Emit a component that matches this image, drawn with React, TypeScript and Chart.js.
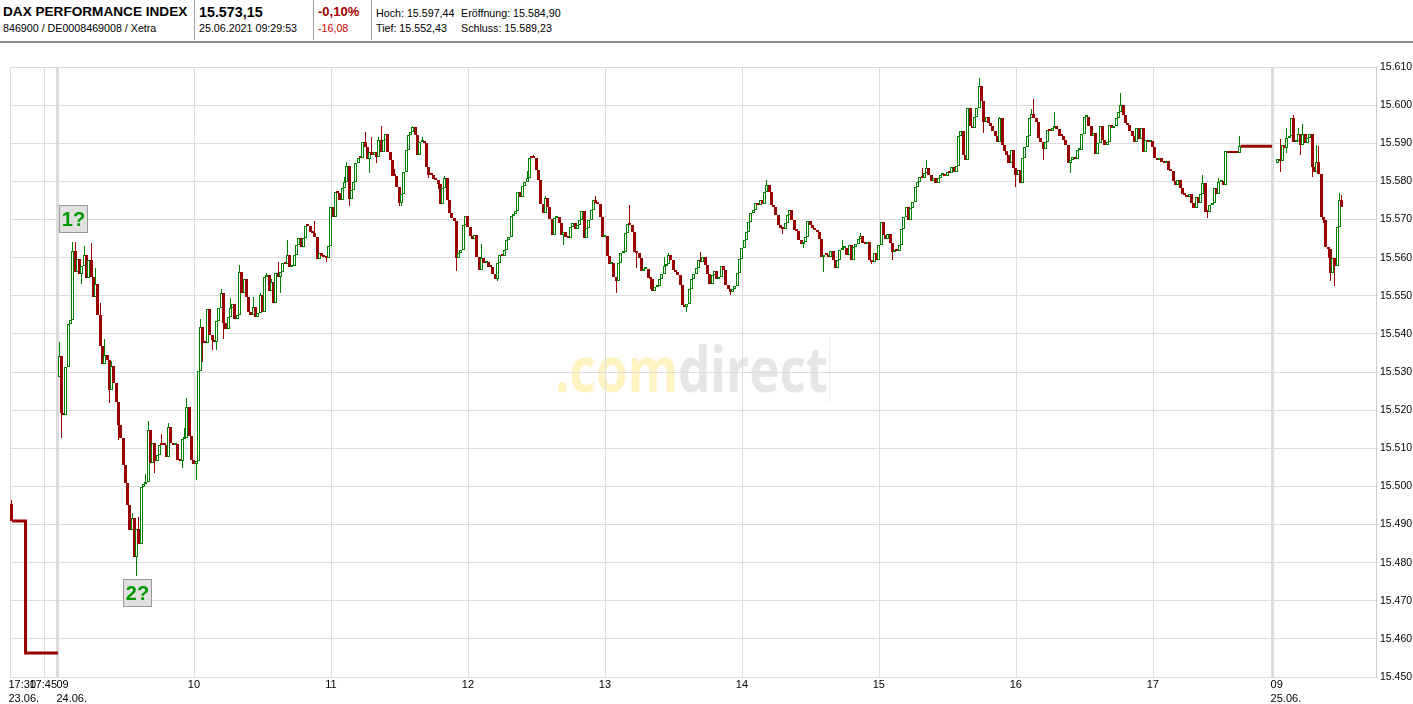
import React, { useEffect, useRef } from 'react';
import { Chart, registerables } from 'chart.js';

Chart.register(...registerables);

// ---------------- DATA ----------------
// x axis: compressed minutes, 0 = 23.06. 17:30 ; 24.06 09:00 at 21 ; 25.06 09:00 at 552.8
const X_MIN = 0;
const X_MAX = 598.3;
const SESSION24_START = 21;
const SESSION25_START = 552.8;

const xTickValues = [0, 15, 21, 81, 141, 201, 261, 321, 381, 441, 501, 552.8];
const xTickTop = ['17:30', '17:45', '09', '10', '11', '12', '13', '14', '15', '16', '17', '09'];
const xTickBottom = ['23.06.', '', '24.06.', '', '', '', '', '', '', '', '', '25.06.'];
const dayBreaks = [21, 552.8];

const yTickValues = [15450, 15460, 15470, 15480, 15490, 15500, 15510, 15520, 15530, 15540, 15550, 15560, 15570, 15580, 15590, 15600, 15610];

// 23.06. late prices
const open23 = 15495.5;
const close23 = [15490.9];
const high23: [number, number][] = [[0, 15496.5]];
const line23Times = [0.9, 6.8, 6.8, 21];
const line23Prices = [15490.9, 15490.9, 15456.3, 15456.3];

// 24.06. one-minute candles (minute 0 = 09:00)
const open24 = 15528.6;
const close24 = [
  15534.2, 15519.3, 15518.6, 15531.4, 15542.6, 15543.6, 15561.7, 15556.3, 15559.6, 15555.7,
  15557.9, 15560.7, 15554.6, 15559.4, 15555.0, 15549.8, 15553.0, 15545.0, 15536.8, 15532.1,
  15534.4, 15533.1, 15525.4, 15531.6, 15527.0, 15522.2, 15516.1, 15512.6, 15505.6, 15500.8,
  15495.2, 15488.5, 15491.6, 15481.5, 15488.7, 15484.8, 15499.9, 15500.5, 15501.2, 15514.8,
  15506.2, 15511.4, 15506.7, 15508.2, 15510.8, 15510.8, 15510.8, 15507.8, 15515.6, 15511.3,
  15510.8, 15511.1, 15506.9, 15506.7, 15512.3, 15512.8, 15520.7, 15513.2, 15506.9, 15506.0,
  15506.7, 15530.3, 15541.9, 15537.7, 15537.5, 15546.4, 15539.7, 15538.4, 15537.9, 15543.4,
  15546.7, 15550.8, 15542.8, 15541.4, 15544.5, 15546.7, 15547.8, 15543.8, 15545.0, 15556.1,
  15550.6, 15554.3, 15549.8, 15545.8, 15545.0, 15547.1, 15544.5, 15545.4, 15550.2, 15545.8,
  15555.0, 15555.4, 15551.3, 15553.7, 15548.2, 15555.9, 15555.0, 15556.3, 15558.5, 15558.3,
  15560.7, 15557.6, 15557.8, 15560.7, 15563.3, 15565.1, 15562.7, 15565.1, 15568.3, 15568.3,
  15566.8, 15566.4, 15565.3, 15559.6, 15561.1, 15560.3, 15560.1, 15559.8, 15563.1, 15573.2,
  15570.6, 15577.3, 15577.0, 15575.1, 15578.2, 15579.8, 15584.1, 15575.4, 15577.8, 15579.8,
  15584.9, 15586.1, 15586.1, 15590.4, 15589.0, 15585.8, 15587.8, 15586.9, 15587.8, 15586.5,
  15590.9, 15587.8, 15590.9, 15592.4, 15587.6, 15585.6, 15581.3, 15581.3, 15578.6, 15574.4,
  15576.6, 15582.4, 15588.1, 15592.2, 15592.9, 15594.2, 15592.2, 15586.9, 15590.4, 15590.7,
  15590.0, 15583.7, 15581.7, 15581.7, 15580.6, 15580.4, 15579.3, 15574.1, 15578.2, 15581.0,
  15575.1, 15571.6, 15570.3, 15569.7, 15559.8, 15561.1, 15562.0, 15568.6, 15570.9, 15568.1,
  15565.7, 15564.8, 15565.9, 15560.1, 15556.8, 15559.8, 15558.5, 15558.9, 15557.6, 15557.5,
  15555.7, 15554.3, 15558.5, 15560.7, 15560.3, 15562.0, 15564.5, 15565.5, 15570.9, 15571.5,
  15572.1, 15577.3, 15575.8, 15578.8, 15579.9, 15580.8, 15586.1, 15586.1, 15586.1, 15583.0,
  15580.4, 15574.0, 15571.6, 15575.6, 15573.4, 15570.1, 15565.9, 15570.3, 15570.6, 15569.0,
  15565.9, 15566.6, 15565.3, 15565.1, 15568.1, 15569.0, 15567.6, 15568.6, 15569.9, 15572.1,
  15565.1, 15567.7, 15569.9, 15572.5, 15575.0, 15574.3, 15574.1, 15570.6, 15565.3, 15565.7,
  15560.3, 15558.2, 15558.7, 15555.0, 15554.0, 15558.5, 15561.1, 15561.6, 15566.4, 15568.8,
  15568.6, 15566.6, 15561.6, 15561.1, 15559.8, 15556.6, 15556.9, 15557.1, 15554.6, 15554.3,
  15551.3, 15552.2, 15552.5, 15554.5, 15555.7, 15557.8, 15558.3, 15560.7, 15559.4, 15556.7,
  15556.3, 15555.4, 15552.8, 15547.5, 15547.1, 15547.8, 15551.9, 15554.5, 15555.8, 15557.2,
  15559.4, 15558.9, 15560.2, 15558.0, 15555.8, 15553.2, 15555.4, 15556.6, 15554.5, 15554.8,
  15557.8, 15556.7, 15552.8, 15551.9, 15551.0, 15551.9, 15552.5, 15555.9, 15559.6, 15562.4,
  15564.6, 15566.8, 15569.4, 15571.8, 15572.5, 15574.2, 15573.8, 15575.1, 15574.0, 15577.3,
  15579.0, 15577.3, 15573.8, 15573.4, 15571.2, 15568.5, 15567.7, 15567.4, 15569.0, 15571.2,
  15572.6, 15569.9, 15567.2, 15567.1, 15564.6, 15563.6, 15564.2, 15565.5, 15569.7, 15568.5,
  15567.7, 15567.2, 15566.8, 15565.0, 15560.2, 15560.7, 15560.7, 15560.2, 15561.8, 15559.4,
  15557.4, 15559.4, 15562.0, 15562.4, 15562.6, 15560.8, 15563.3, 15559.4, 15562.7, 15563.7,
  15564.8, 15565.7, 15563.9, 15563.7, 15564.2, 15559.4, 15558.9, 15561.1, 15559.4, 15563.3,
  15569.4, 15565.9, 15565.0, 15566.2, 15563.9, 15561.5, 15562.0, 15561.8, 15563.3, 15567.4,
  15570.7, 15573.4, 15569.9, 15572.9, 15574.7, 15578.4, 15579.9, 15581.2, 15581.0, 15582.3,
  15583.4, 15581.7, 15580.2, 15581.0, 15579.5, 15580.8, 15581.7, 15581.9, 15581.5, 15582.4,
  15582.1, 15583.9, 15582.5, 15584.0, 15591.8, 15593.1, 15586.9, 15585.6, 15599.2, 15594.4,
  15593.9, 15597.0, 15599.2, 15604.9, 15601.0, 15595.5, 15596.8, 15595.3, 15594.4, 15593.1,
  15592.0, 15590.4, 15596.6, 15589.6, 15588.0, 15586.9, 15584.7, 15588.2, 15583.6, 15581.7,
  15583.0, 15579.5, 15586.1, 15589.1, 15591.8, 15596.6, 15597.6, 15596.6, 15595.7, 15591.3,
  15590.3, 15588.4, 15590.4, 15593.5, 15593.1, 15593.9, 15594.4, 15593.8, 15592.0, 15591.8,
  15590.9, 15589.6, 15584.9, 15585.6, 15586.5, 15585.9, 15588.1, 15588.2, 15592.4, 15596.8,
  15597.0, 15594.4, 15592.0, 15592.6, 15587.1, 15590.0, 15594.6, 15590.9, 15589.6, 15590.3,
  15594.8, 15594.1, 15594.6, 15596.6, 15598.3, 15600.1, 15597.5, 15595.3, 15594.8, 15593.2,
  15591.8, 15590.4, 15593.9, 15591.1, 15593.9, 15587.6, 15590.9, 15590.3, 15590.6, 15588.9,
  15586.2, 15585.6, 15586.2, 15585.2, 15584.7, 15585.4, 15583.0, 15582.7, 15580.1, 15579.0,
  15580.4, 15578.3, 15576.8, 15576.4, 15576.0, 15576.6, 15574.2, 15572.9, 15576.0, 15574.2,
  15576.8, 15579.5, 15572.0, 15572.0, 15573.8, 15574.2, 15578.3, 15576.8, 15579.9, 15580.1,
  15579.0, 15588.0, 15587.5, 15587.5, 15587.5, 15587.5, 15587.5, 15589.3,
];
const high24: [number, number][] = [
  [0, 15537.9], [6, 15564.0], [7, 15564.0], [11, 15563.1], [14, 15563.8], [16, 15557.2], [18, 15548.0],
  [20, 15538.6], [23, 15532.9], [27, 15515.2], [32, 15492.9], [35, 15492.0], [38, 15503.2], [39, 15517.1],
  [45, 15513.7], [48, 15516.7], [55, 15515.2], [56, 15523.2], [62, 15543.8], [71, 15551.9], [75, 15549.3],
  [79, 15558.1], [85, 15549.6], [88, 15550.8], [91, 15555.9], [93, 15554.3], [96, 15558.9], [100, 15564.6],
  [112, 15569.7], [125, 15581.1], [126, 15585.2], [134, 15593.0], [137, 15591.7], [140, 15591.7],
  [141, 15594.4], [147, 15583.2], [155, 15594.6], [159, 15591.7], [169, 15581.4], [185, 15563.5],
  [205, 15582.7], [208, 15586.9], [213, 15576.2], [235, 15576.2], [250, 15573.8], [265, 15560.1],
  [267, 15561.3], [281, 15561.5], [310, 15580.3], [343, 15564.6], [351, 15566.5], [378, 15583.4],
  [380, 15585.6], [395, 15593.3], [403, 15607.1], [412, 15597.0], [426, 15599.0], [427, 15601.7],
  [436, 15598.2], [465, 15603.2], [501, 15581.7], [508, 15580.8], [517, 15591.9],
];
const low24: [number, number][] = [
  [1, 15512.6], [10, 15553.1], [22, 15521.9], [26, 15512.1], [34, 15476.5], [42, 15503.4], [54, 15504.7],
  [60, 15501.6], [63, 15532.5], [67, 15535.8], [69, 15535.8], [72, 15538.6], [97, 15550.6], [117, 15558.8],
  [127, 15573.5], [136, 15582.3], [139, 15584.8], [149, 15573.6], [150, 15573.6], [162, 15580.8],
  [166, 15578.0], [174, 15556.6], [192, 15554.0], [221, 15563.4], [244, 15550.8], [253, 15557.2],
  [259, 15551.7], [275, 15545.8], [294, 15550.1], [317, 15566.2], [326, 15562.6], [335, 15556.3],
  [356, 15558.4], [365, 15559.4], [405, 15592.6], [419, 15578.6], [431, 15585.6], [443, 15582.1],
  [503, 15570.4],
];
// 24.06. after the close (Schluss)
const afterCloseTimes = [539, 552.8];
const afterClosePrices = [15589.23, 15589.23];

// 25.06. one-minute candles (first print at minute 2 = 09:02)
const first25Minute = 2;
const open25 = 15584.9;
const close25 = [
  15586.0, 15585.4, 15589.5, 15588.8, 15591.5, 15591.8, 15596.5, 15590.4, 15590.6, 15592.5,
  15589.5, 15592.5, 15590.0, 15591.5, 15592.3, 15583.8, 15582.5, 15585.1, 15582.0, 15570.7,
  15569.9, 15562.8, 15562.2, 15556.0, 15559.8, 15557.9, 15568.1, 15575.2, 15573.15,
];
const high25: [number, number][] = [
  [3, 15591.0], [6, 15594.1], [9, 15597.44], [11, 15594.0], [13, 15595.0], [19, 15589.5], [20, 15589.2],
  [29, 15577.0], [30, 15576.4],
];
const low25: [number, number][] = [
  [3, 15582.5], [6, 15587.5], [12, 15586.8], [17, 15581.2], [22, 15569.1], [24, 15560.0], [25, 15554.0],
  [27, 15552.43],
];

const annotationLabels = ['1?', '2?'];
const annotationMinutes = [6, 34]; // minute of 24.06.
const annotationSides = ['above', 'below'];

const headerTitle = 'DAX PERFORMANCE INDEX';
const headerIds = '846900 / DE0008469008 / Xetra';
const headerPrice = '15.573,15';
const headerTime = '25.06.2021 09:29:53';
const headerPct = '-0,10%';
const headerAbs = '-16,08';
const headerRow1 = ['Hoch: 15.597,44', 'Eröffnung: 15.584,90'];
const headerRow2 = ['Tief: 15.552,43', 'Schluss: 15.589,23'];

// ---------------- STYLE ----------------
const RED = '#990000';
const GREEN = '#008000';
const GRID = '#dcdcdc';
const FONT = '"Liberation Sans", Arial, sans-serif';

type Candle = { x: number; o: number; c: number; hi: number; lo: number; up: boolean };

function buildCandles(open0: number, closes: number[], startT: number, firstMinute: number,
  highs: [number, number][], lows: [number, number][]): Candle[] {
  const hMap = new Map(highs);
  const lMap = new Map(lows);
  let prev = open0;
  return closes.map((c, i) => {
    const o = prev;
    prev = c;
    const m = i + firstMinute;
    const hi = Math.max(o, c, hMap.has(m) ? (hMap.get(m) as number) : -Infinity);
    const lo = Math.min(o, c, lMap.has(m) ? (lMap.get(m) as number) : Infinity);
    return { x: startT + m + 0.5, o, c, hi, lo, up: c > o };
  });
}

function fmtDE(v: number) {
  const th = Math.floor(v / 1000);
  const rest = Math.round(v - th * 1000);
  return `${th}.${String(rest).padStart(3, '0')}`;
}

export default function App() {
  const ref = useRef<HTMLCanvasElement | null>(null);

  useEffect(() => {
    document.body.style.margin = '0';
    const c23 = buildCandles(open23, close23, 0, 0, high23, []);
    const c24 = buildCandles(open24, close24, SESSION24_START, 0, high24, low24);
    const c25 = buildCandles(open25, close25, SESSION25_START, first25Minute, high25, low25);
    const candles = [...c23, ...c24, ...c25];

    const overlay = {
      id: 'overlay',
      beforeDraw(chart: any) {
        const { ctx, chartArea: a } = chart;
        ctx.save();
        ctx.font = 'bold 62px "Open Sans"';
        const w1 = ctx.measureText('.com').width;
        const w2 = ctx.measureText('direct').width;
        const total = w1 + w2;
        const sx = 273 / total;
        const cx = (a.left + a.right) / 2 - 1.5;
        const baseY = (a.top + a.bottom) / 2 + 20;
        ctx.translate(cx - (total * sx) / 2, baseY);
        ctx.scale(sx, 1);
        ctx.fillStyle = '#fff3c2';
        ctx.fillText('.com', 0, 0);
        ctx.fillStyle = '#e6e6e6';
        ctx.fillText('direct', w1, 0);
        ctx.restore();
        ctx.save();
        ctx.strokeStyle = '#eeeeee';
        ctx.lineWidth = 1;
        ctx.beginPath();
        const ex = Math.round(cx + 273 / 2 + 0.5) + 0.5;
        ctx.moveTo(ex, baseY - 57);
        ctx.lineTo(ex, baseY + 11);
        ctx.stroke();
        ctx.restore();
      },
      beforeDatasetsDraw(chart: any) {
        // snap candle bars to whole pixels for crisp edges
        [0, 1].forEach((di) => {
          chart.getDatasetMeta(di).data.forEach((el: any) => {
            el.x = Math.round(el.x - 0.5) + 0.5;
            el.y = Math.round(el.y);
            el.base = Math.round(el.base);
          });
        });
      },
      afterDraw(chart: any) {
        const { ctx, chartArea: a, scales } = chart;
        const xs = scales.x;
        const ys = scales.y;
        ctx.save();
        ctx.fillStyle = '#000';
        ctx.font = `11px ${FONT}`;
        ctx.textBaseline = 'alphabetic';
        xTickValues.forEach((v, i) => {
          const px = xs.getPixelForValue(v);
          const startsDay = xTickBottom[i] !== '';
          ctx.textAlign = startsDay ? 'left' : 'center';
          const x = startsDay ? px - 1.5 : px - 1;
          ctx.fillText(xTickTop[i], x, a.bottom + 11);
          if (startsDay) ctx.fillText(xTickBottom[i], x, a.bottom + 24.5);
        });
        // annotations
        annotationLabels.forEach((lab, i) => {
          const cnd = c24[annotationMinutes[i]];
          const px = xs.getPixelForValue(cnd.x);
          const w = 29, h = 28;
          let top: number;
          if (annotationSides[i] === 'above') top = ys.getPixelForValue(cnd.hi) - 9 - h;
          else top = ys.getPixelForValue(cnd.lo) + 3;
          const left = Math.round(px - w / 2 + 1);
          top = Math.round(top);
          ctx.fillStyle = '#e0e0e0';
          ctx.fillRect(left, top, w, h);
          ctx.strokeStyle = '#9a9a9a';
          ctx.lineWidth = 1;
          ctx.strokeRect(left + 0.5, top + 0.5, w - 1, h - 1);
          ctx.fillStyle = '#009900';
          ctx.font = `bold 20px ${FONT}`;
          ctx.textAlign = 'center';
          ctx.textBaseline = 'alphabetic';
          ctx.fillText(lab, left + w / 2, top + h / 2 + 7);
        });
        ctx.restore();
      },
    };

    const chart = new Chart(ref.current as HTMLCanvasElement, {
      type: 'bar',
      data: {
        datasets: [
          {
            type: 'bar',
            label: 'body',
            data: candles.map((k) => ({ x: k.x, y: [k.o, k.c] })) as any,
            backgroundColor: candles.map((k) => (k.up ? '#ffffff' : RED)),
            borderColor: candles.map((k) => (k.up ? GREEN : RED)),
            borderWidth: candles.map((k) => (k.up ? 1 : 0)),
            borderSkipped: false,
            barThickness: 3,
            minBarLength: 2,
            grouped: false,
            inflateAmount: 0,
            order: 0,
          } as any,
          {
            type: 'bar',
            label: 'wick',
            data: candles.map((k) => ({ x: k.x, y: [k.lo, k.hi] })) as any,
            backgroundColor: candles.map((k) => (k.up ? GREEN : RED)),
            borderWidth: 0,
            barThickness: 1,
            grouped: false,
            inflateAmount: 0,
            order: 1,
          } as any,
          {
            type: 'line',
            label: 'late23',
            data: line23Times.map((t, i) => ({ x: t, y: line23Prices[i] })) as any,
            borderColor: RED,
            borderWidth: 3,
            pointRadius: 0,
            borderJoinStyle: 'miter',
            borderCapStyle: 'butt',
            fill: false,
            tension: 0,
            order: 2,
          } as any,
          {
            type: 'line',
            label: 'afterClose24',
            data: afterCloseTimes.map((t, i) => ({ x: t, y: afterClosePrices[i] })) as any,
            borderColor: RED,
            borderWidth: 3,
            pointRadius: 0,
            borderCapStyle: 'butt',
            fill: false,
            tension: 0,
            order: 2,
          } as any,
        ],
      },
      options: {
        animation: false,
        responsive: false,
        devicePixelRatio: 1,
        layout: { padding: { left: 10, top: 23, right: 0, bottom: 0 } },
        plugins: { legend: { display: false }, tooltip: { enabled: false } },
        events: [],
        scales: {
          x: {
            type: 'linear',
            min: X_MIN,
            max: X_MAX,
            offset: false,
            afterBuildTicks: (s: any) => {
              s.ticks = xTickValues.map((v) => ({ value: v }));
            },
            ticks: { display: false },
            grid: {
              color: GRID,
              offset: false,
              drawTicks: false,
              lineWidth: (ctx: any) => (ctx.tick && dayBreaks.includes(ctx.tick.value) ? 3 : 1),
            },
            border: { display: false },
            afterFit: (s: any) => {
              s.height = 27;
            },
          } as any,
          y: {
            type: 'linear',
            position: 'right',
            min: 15450,
            max: 15610,
            afterBuildTicks: (s: any) => {
              s.ticks = yTickValues.map((v) => ({ value: v }));
            },
            ticks: {
              callback: (v: any) => fmtDE(Number(v)),
              font: { family: FONT, size: 10.5 },
              color: '#000',
              padding: 2,
              autoSkip: false,
            },
            grid: { color: GRID, tickLength: 2 },
            border: { color: '#cccccc' },
            afterFit: (s: any) => {
              s.width = 37;
            },
          } as any,
        },
      },
      plugins: [overlay],
    });
    return () => chart.destroy();
  }, []);

  const small = { position: 'absolute' as const, fontFamily: FONT, fontSize: '10.7px', lineHeight: '10.7px', whiteSpace: 'nowrap' as const, color: '#000' };
  const sep = (x: number) => (
    <div style={{ position: 'absolute', left: x, top: 0, width: 1, height: 40, background: '#a0a0a0' }} />
  );

  return (
    <div style={{ position: 'relative', width: 1413, height: 704, overflow: 'hidden', background: '#fff' }}>
      <div style={{ position: 'absolute', left: 3, top: 5, fontFamily: FONT, fontWeight: 'bold', fontSize: '13.6px', lineHeight: '14px', whiteSpace: 'nowrap' }}>{headerTitle}</div>
      <div style={{ ...small, left: 3, top: 23 }}>{headerIds}</div>
      {sep(194)}
      <div style={{ position: 'absolute', left: 199, top: 5, fontFamily: FONT, fontWeight: 'bold', fontSize: '14.3px', lineHeight: '14px', whiteSpace: 'nowrap' }}>{headerPrice}</div>
      <div style={{ ...small, left: 199, top: 23 }}>{headerTime}</div>
      {sep(313)}
      <div style={{ position: 'absolute', left: 318, top: 5, fontFamily: FONT, fontWeight: 'bold', fontSize: '13px', lineHeight: '14px', whiteSpace: 'nowrap', color: '#a00000' }}>{headerPct}</div>
      <div style={{ ...small, left: 318, top: 23, color: '#cc0000' }}>{headerAbs}</div>
      {sep(371)}
      <div style={{ ...small, left: 376, top: 7.6 }}>{headerRow1[0]}</div>
      <div style={{ ...small, left: 461, top: 7.6 }}>{headerRow1[1]}</div>
      <div style={{ ...small, left: 376, top: 23 }}>{headerRow2[0]}</div>
      <div style={{ ...small, left: 461, top: 23 }}>{headerRow2[1]}</div>
      <div style={{ position: 'absolute', left: 0, top: 41, width: 1413, height: 2, background: '#8c8c8c' }} />
      <canvas ref={ref} width={1413} height={660} style={{ position: 'absolute', left: 0, top: 44, width: 1413, height: 660 }} />
    </div>
  );
}
